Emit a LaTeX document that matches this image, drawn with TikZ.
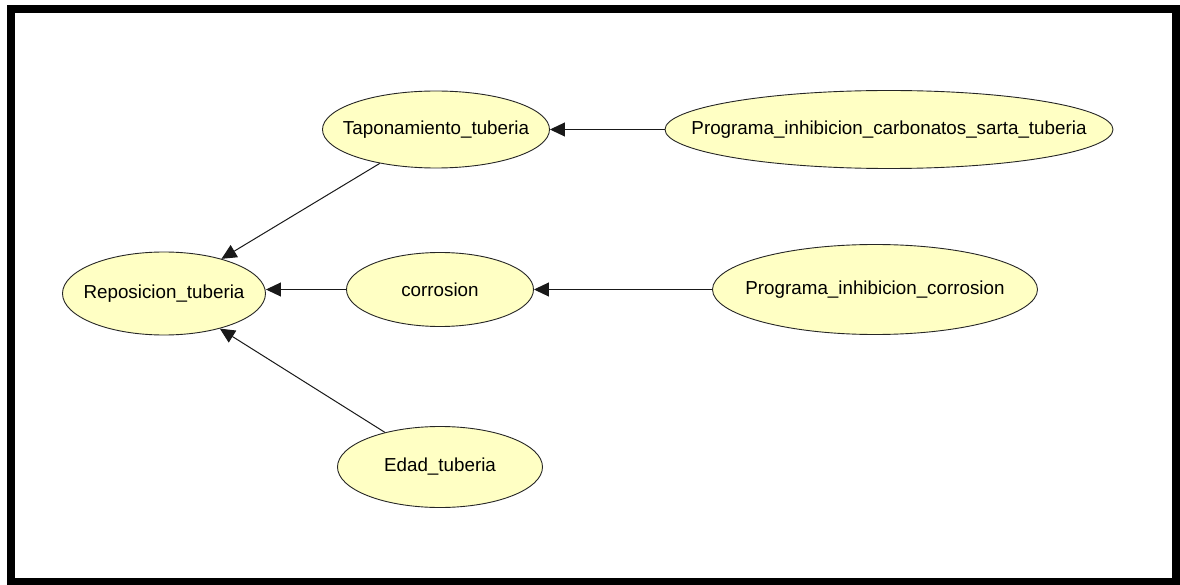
\documentclass[tikz,border=0pt]{standalone}
\usepackage{fontspec}
\setmainfont{Liberation Sans}
\usetikzlibrary{shapes.geometric,arrows.meta}
\definecolor{nodefill}{RGB}{255,255,196}
\tikzset{
  var/.style={ellipse, draw=black!85, line width=0.9pt, fill=nodefill, inner sep=0pt},
  varname/.style={font=\fontsize{18.8}{21}\selectfont, inner sep=0pt},
  link/.style={draw=black!90, line width=1pt, -{Triangle[length=15pt,width=14pt]}}
}
\begin{document}
\begin{tikzpicture}[x=1pt,y=-1pt]
  \useasboundingbox (0,0) rectangle (1180,585);
  \fill[white] (0,0) rectangle (1180,585);
  % outer frame
  \draw[line width=7.6pt] (11,9) rectangle (1176,582);

  \node[var, minimum width=203pt, minimum height=83pt,
        label={[varname]center:Reposicion\_tuberia}] (rep) at (164,293.5) {};
  \node[var, minimum width=227pt, minimum height=77pt,
        label={[varname]center:Taponamiento\_tuberia}] (tap) at (436,129.5) {};
  \node[var, minimum width=448pt, minimum height=78pt,
        label={[varname]center:Programa\_inhibicion\_carbonatos\_sarta\_tuberia}] (pcs) at (889,129.5) {};
  \node[var, minimum width=187pt, minimum height=74pt,
        label={[varname]center:corrosion}] (cor) at (440,289.5) {};
  \node[var, minimum width=325pt, minimum height=90pt,
        label={[varname]center:Programa\_inhibicion\_corrosion}] (pic) at (875,289.5) {};
  \node[var, minimum width=205pt, minimum height=81pt,
        label={[varname]center:Edad\_tuberia}] (eda) at (440,467) {};

  \draw[link] (tap) -- (rep);
  \draw[link] (cor.west) -- (rep.east |- cor.west);
  \draw[link] (eda) -- (rep);
  \draw[link] (pcs) -- (tap);
  \draw[link] (pic) -- (cor);
\end{tikzpicture}
\end{document}
